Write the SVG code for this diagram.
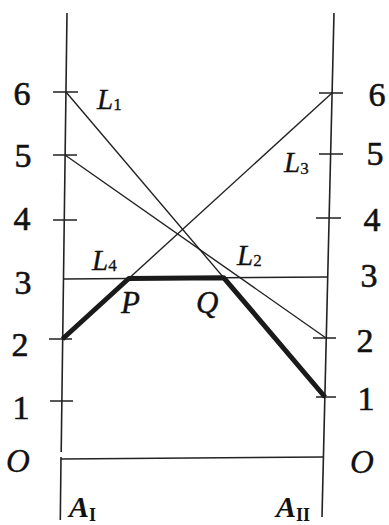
<svg xmlns="http://www.w3.org/2000/svg" width="389" height="525" viewBox="0 0 389 525">
<style>
.ax{stroke:#222;stroke-width:1.6;fill:none}
.ln{stroke:#222;stroke-width:1.4;fill:none}
.thick{stroke:#1a1a1a;stroke-width:5;fill:none;stroke-linejoin:round}
.num{font-size:34px;text-anchor:middle;stroke:#111;stroke-width:0.6;fill:#111}
.lab{font-style:italic;font-size:29px;stroke:#111;stroke-width:0.3;fill:#111}
.sub{font-style:normal;font-size:17px}
.pt{font-style:italic;font-size:31px;stroke:#111;stroke-width:0.4;fill:#111}
.ab{font-style:italic;font-weight:bold;font-size:30px;fill:#111}
.absub{font-style:normal;font-weight:bold;font-size:18px}
</style>
<rect width="389" height="525" fill="#fff"/>
<g font-family="Liberation Serif, Times New Roman, serif">
<g id="axis-left">
<path class="ax" d="M67,13 L61.2,452 M61,457 L60.3,520"/>
<path class="ax" d="M53,92 H78 M53,155 H77 M53,220 H77 M49,339 H72 M50,401 H73"/>
<text class="num" x="22" y="105">6</text>
<text class="num" x="23" y="167">5</text>
<text class="num" x="22" y="230">4</text>
<text class="num" x="23" y="294">3</text>
<text class="num" x="20" y="356">2</text>
<text class="num" x="21" y="419">1</text>
<text class="lab" x="6" y="472" style="font-size:33px">O</text>
<text class="ab" x="69" y="517">A<tspan class="absub" dy="4">I</tspan></text>
</g>
<g id="axis-right">
<path class="ax" d="M334,13 L322,517"/>
<path class="ax" d="M319,93 H343 M319,154 H343 M316,218 H341 M313,338 H336 M316,397 H336"/>
<text class="num" x="377" y="106">6</text>
<text class="num" x="375" y="165">5</text>
<text class="num" x="372" y="231">4</text>
<text class="num" x="369" y="287">3</text>
<text class="num" x="365" y="352">2</text>
<text class="num" x="366" y="410">1</text>
<text class="lab" x="350" y="473" style="font-size:33px">O</text>
<text class="ab" x="276" y="517">A<tspan class="absub" dy="4">II</tspan></text>
</g>
<g id="connectors">
<line class="ln" x1="66" y1="92" x2="325" y2="397"/>
<line class="ln" x1="65" y1="155" x2="326" y2="338"/>
<line class="ln" x1="62.5" y1="339" x2="332" y2="93"/>
<line class="ln" x1="63.3" y1="279" x2="327.7" y2="277"/>
<line class="ln" x1="61" y1="459" x2="323.4" y2="457"/>
<polyline class="thick" points="62.5,339 128.8,278.5 223.8,277.8 325,397"/>
</g>
<g id="labels">
<text class="lab" x="97" y="109">L<tspan class="sub" dy="1">1</tspan></text>
<text class="lab" x="284" y="172">L<tspan class="sub" dy="2">3</tspan></text>
<text class="lab" x="92" y="270">L<tspan class="sub" dy="1">4</tspan></text>
<text class="lab" x="237" y="265">L<tspan class="sub" dy="1">2</tspan></text>
<text class="pt" x="121" y="313">P</text>
<text class="pt" x="196" y="313">Q</text>
</g>
</g>
</svg>
